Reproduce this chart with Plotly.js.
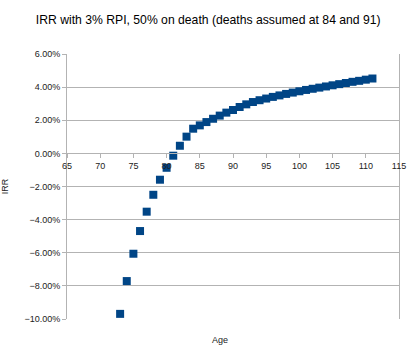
<!DOCTYPE html>
<html>
<head>
<meta charset="utf-8">
<script src="https://cdn.plot.ly/plotly-3.0.1.min.js"></script>
<style>html,body{margin:0;padding:0;background:#fff;}#chart{width:419px;height:353px;}</style>
</head>
<body>
<div id="chart"></div>
<script>
const ages = [73,74,75,76,77,78,79,80,81,82,83,84,85,86,87,88,89,90,91,92,93,94,95,96,97,98,99,100,101,102,103,104,105,106,107,108,109,110,111];
const irrPct = [-9.69,-7.71,-6.06,-4.69,-3.52,-2.50,-1.59,-0.87,-0.14,0.46,1.01,1.49,1.69,1.89,2.09,2.28,2.46,2.62,2.80,2.96,3.10,3.21,3.31,3.41,3.50,3.59,3.67,3.75,3.83,3.90,3.97,4.04,4.11,4.18,4.25,4.32,4.38,4.45,4.52];
const titleText = "IRR with 3% RPI, 50% on death (deaths assumed at 84 and 91)";
const xTitle = "Age";
const yTitle = "IRR";

const font = "Liberation Sans, Arial, sans-serif";
const trace = {
  x: ages,
  y: irrPct.map(v => v / 100),
  type: "scatter",
  mode: "markers",
  marker: {symbol: "square", size: 8, color: "#004586"},
  hoverinfo: "x+y"
};
const layout = {
  width: 419, height: 353,
  margin: {l: 67, r: 20, t: 54, b: 34},
  paper_bgcolor: "#fff", plot_bgcolor: "#fff",
  showlegend: false,
  font: {family: font, size: 9, color: "#222"},
  title: {text: titleText, font: {family: font, size: 12.2, color: "#000"}, x: 0.497, xanchor: "center", y: 0.943, yanchor: "middle"},
  xaxis: {
    range: [65, 115], dtick: 5, tick0: 65,
    showgrid: false, zeroline: false,
    showline: true, linecolor: "#b3b3b3", linewidth: 1,
    ticks: "outside", ticklen: 4, tickcolor: "#b3b3b3",
    anchor: "free", position: 0.625,
    tickfont: {family: font, size: 9, color: "#222"}
  },
  yaxis: {
    range: [-0.10, 0.06], dtick: 0.02, tickformat: ".2%",
    showgrid: true, gridcolor: "#b3b3b3", gridwidth: 1,
    zeroline: false,
    showline: true, linecolor: "#b3b3b3", linewidth: 1, mirror: true,
    ticks: "outside", ticklen: 4, tickcolor: "#b3b3b3",
    tickfont: {family: font, size: 9, color: "#222"},
    title: {text: yTitle, font: {family: font, size: 9, color: "#222"}, standoff: 16}
  },
  annotations: [{
    text: xTitle, xref: "paper", yref: "paper", x: 0.46, y: -0.078,
    xanchor: "center", yanchor: "middle", showarrow: false,
    font: {family: font, size: 9, color: "#222"}
  }]
};
Plotly.newPlot("chart", [trace], layout, {displayModeBar: false, staticPlot: true});
</script>
</body>
</html>
